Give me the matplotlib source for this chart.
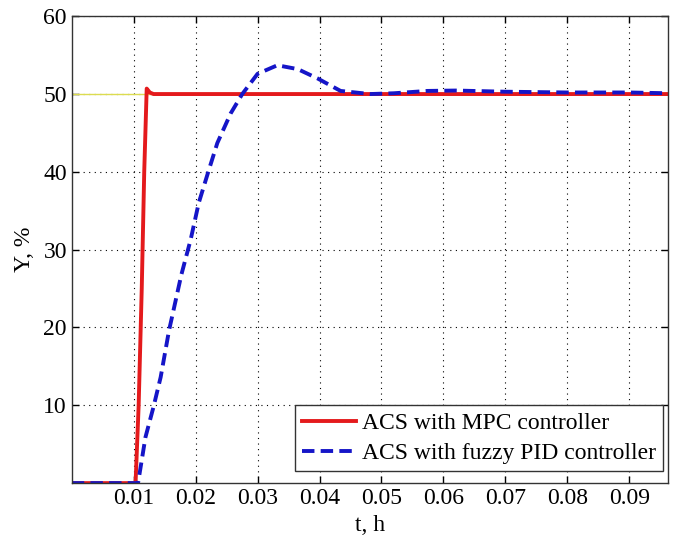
import numpy as np
import matplotlib
matplotlib.use("Agg")
import matplotlib.pyplot as plt

# Step response data, t in hours, Y in %
setpoint = 50

t_mpc = [0.0, 0.0103, 0.0108, 0.0113, 0.0117, 0.0121, 0.0126, 0.0132, 0.0963]
y_mpc = [0.0, 0.0, 10.0, 25.0, 40.0, 50.7, 50.2, 50.0, 50.0]

t_pid = [0.0, 0.0107, 0.0119, 0.0132, 0.01435, 0.0157, 0.0177, 0.0192, 0.0205,
         0.0220, 0.0235, 0.02565, 0.02753, 0.0300, 0.0332, 0.0365, 0.0397,
         0.0434, 0.0482, 0.0520, 0.0574, 0.0620, 0.0700, 0.0800, 0.0900, 0.0963]
y_pid = [0.0, 0.0, 5.9, 9.8, 13.6, 19.6, 26.8, 31.3, 36.0,
         39.9, 43.7, 47.5, 50.0, 52.6, 53.7, 53.2, 52.0,
         50.4, 50.0, 50.1, 50.4, 50.45, 50.3, 50.2, 50.2, 50.1]

xticks = [0.01, 0.02, 0.03, 0.04, 0.05, 0.06, 0.07, 0.08, 0.09]
yticks = [10, 20, 30, 40, 50, 60]

plt.rcParams["font.family"] = ["Liberation Serif", "DejaVu Serif"]
plt.rcParams["font.size"] = 17

fig = plt.figure(figsize=(6.77, 5.41), dpi=100)
ax = fig.add_axes([0.106, 0.107, 0.881, 0.863])

ax.plot([0, 0.0963], [setpoint, setpoint], color="#dcdc50", linewidth=1.0)
ax.plot(t_mpc, y_mpc, color="#e41a1c", linewidth=2.8,
        label="ACS with MPC controller")
ax.plot(t_pid, y_pid, color="#1515c8", linewidth=2.8, dashes=(3.2, 1.6),
        label="ACS with fuzzy PID controller")

ax.set_xlim(0, 0.0963)
ax.set_ylim(0, 60)
ax.set_xticks(xticks)
ax.set_xticklabels([f"{v:.2f}" for v in xticks])
ax.set_yticks(yticks)

ax.grid(True, color="black", linestyle=(0, (1, 4)), linewidth=0.8)
ax.tick_params(direction="in", top=True, right=True, length=5, width=1)
for s in ax.spines.values():
    s.set_color("#333333")
    s.set_linewidth(1.0)

ax.set_xlabel("t, h", labelpad=4)
ax.set_ylabel("Y, %", labelpad=6)

leg = ax.legend(loc="lower right", bbox_to_anchor=(0.992, 0.026),
                fancybox=False, framealpha=1, edgecolor="#333333",
                handlelength=2.3, handletextpad=0.25, borderpad=0.3,
                labelspacing=0.35, borderaxespad=0)
leg.get_frame().set_linewidth(1.0)

plt.savefig("out.png", dpi=100)
